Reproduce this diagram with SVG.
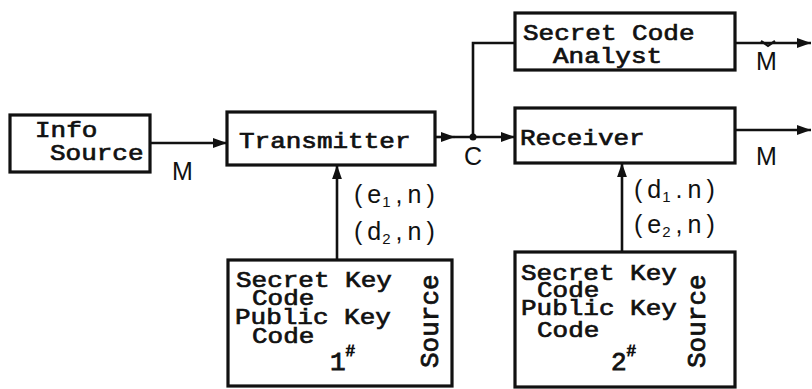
<svg xmlns="http://www.w3.org/2000/svg" width="812" height="389" viewBox="0 0 812 389">
<style>
.box{fill:#fff;stroke:#111;stroke-width:3.2}
.line{fill:none;stroke:#111;stroke-width:2.6}
.t{font-family:"Liberation Mono","Courier New",monospace;font-size:26px;fill:#111;stroke:#111;stroke-width:0.8}
.h{font-family:"Liberation Sans",Arial,sans-serif;font-size:25px;fill:#111}
.sub{font-size:15px}
</style>
<defs>
<marker id="ah" viewBox="0 0 10 10" refX="10" refY="5" markerWidth="5.5" markerHeight="5.5" orient="auto" markerUnits="strokeWidth">
<path d="M0,1.5 L10,5 L0,8.5 Z" fill="#111"/>
</marker>
</defs>
<rect width="812" height="389" fill="#fff"/>
<g id="connectors">
<line class="line" x1="150" y1="143" x2="227" y2="143" marker-end="url(#ah)"/>
<line class="line" x1="435" y1="137" x2="455" y2="137" marker-end="url(#ah)"/>
<line class="line" x1="455" y1="137" x2="515" y2="137" marker-end="url(#ah)"/>
<circle cx="473" cy="137" r="3.5" fill="#111"/>
<polyline class="line" points="473,137 473,43 515,43"/>
<line class="line" x1="735" y1="43" x2="811" y2="43" marker-end="url(#ah)"/>
<line class="line" x1="735" y1="130" x2="811" y2="130" marker-end="url(#ah)"/>
<line class="line" x1="337" y1="260" x2="337" y2="165" marker-end="url(#ah)"/>
<line class="line" x1="622" y1="252" x2="622" y2="163" marker-end="url(#ah)"/>
<text class="h" x="172" y="180">M</text>
<text class="h" x="464" y="165">C</text>
<text class="h" x="756" y="70">M</text>
<path d="M761,41 L768,46 L775,41" fill="none" stroke="#111" stroke-width="2.2"/>
<text class="h" x="756" y="165">M</text>
<text class="h" x="354" y="203" letter-spacing="5">(e<tspan class="sub" dx="-4" dy="4">1</tspan><tspan dy="-4">,n)</tspan></text>
<text class="h" x="354" y="240" letter-spacing="5">(d<tspan class="sub" dx="-4" dy="4">2</tspan><tspan dy="-4">,n)</tspan></text>
<text class="h" x="634" y="198" letter-spacing="5">(d<tspan class="sub" dx="-4" dy="4">1</tspan><tspan dy="-4">.n)</tspan></text>
<text class="h" x="634" y="233" letter-spacing="5">(e<tspan class="sub" dx="-4" dy="4">2</tspan><tspan dy="-4">,n)</tspan></text>
</g>
<g id="info-source">
<rect class="box" x="10" y="115" width="140" height="57"/>
<text class="t" transform="translate(35,137) scale(1,0.88)">Info</text>
<text class="t" transform="translate(50,160) scale(1,0.88)">Source</text>
</g>
<g id="transmitter">
<rect class="box" x="227" y="112" width="208" height="53"/>
<text class="t" transform="translate(239,148) scale(1,0.88)">Transmitter</text>
</g>
<g id="analyst">
<rect class="box" x="515" y="13" width="220" height="57"/>
<text class="t" transform="translate(523,40) scale(1,0.88)">Secret Code</text>
<text class="t" transform="translate(553,63) scale(1,0.88)">Analyst</text>
</g>
<g id="receiver">
<rect class="box" x="515" y="108" width="220" height="55"/>
<text class="t" transform="translate(520,145) scale(1,0.88)">Receiver</text>
</g>
<g id="key-source-1">
<rect class="box" x="228" y="260" width="224" height="126"/>
<text class="t" transform="translate(236,287) scale(1,0.88)">Secret Key</text>
<text class="t" transform="translate(252,305) scale(1,0.88)">Code</text>
<text class="t" transform="translate(235,324) scale(1,0.88)">Public Key</text>
<text class="t" transform="translate(252,343) scale(1,0.88)">Code</text>
<text class="t" x="330" y="370">1<tspan font-size="16" dy="-14">#</tspan></text>
<text class="t" transform="translate(438,368) rotate(-90)">Source</text>
</g>
<g id="key-source-2">
<rect class="box" x="515" y="252" width="220" height="135"/>
<text class="t" transform="translate(521,280) scale(1,0.88)">Secret Key</text>
<text class="t" transform="translate(537,297) scale(1,0.88)">Code</text>
<text class="t" transform="translate(521,315) scale(1,0.88)">Public Key</text>
<text class="t" transform="translate(537,337) scale(1,0.88)">Code</text>
<text class="t" x="611" y="370">2<tspan font-size="16" dy="-14">#</tspan></text>
<text class="t" transform="translate(705,368) rotate(-90)">Source</text>
</g>
</svg>
